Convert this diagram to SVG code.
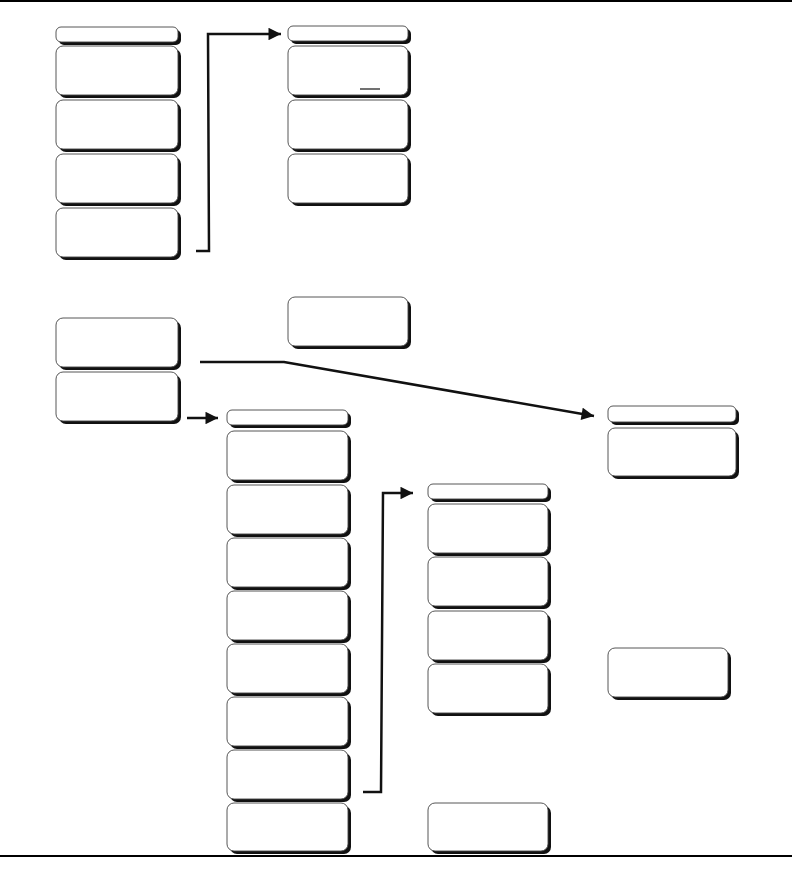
<svg xmlns="http://www.w3.org/2000/svg" width="792" height="870" viewBox="0 0 792 870">
<style>
.sh{fill:#111}
.bt{fill:#fff;stroke:#444;stroke-width:0.9}
.hd{fill:#fff;stroke:#444;stroke-width:0.9}
.ln{fill:none;stroke:#111;stroke-width:2.5;stroke-linejoin:miter}
.rule{stroke:#000;stroke-width:2}
</style>
<defs>
<marker id="ah" viewBox="0 0 10 10" refX="10" refY="5" markerWidth="6" markerHeight="5" markerUnits="strokeWidth" orient="auto">
<path d="M0,0 L10,5 L0,10 Z" fill="#111"/>
</marker>
</defs>
<rect width="792" height="870" fill="#fff"/>
<line class="rule" x1="0" y1="1" x2="792" y2="1"/>
<line class="rule" x1="0" y1="856" x2="792" y2="856"/>

<g id="c1-hdr"><rect class="sh" x="59" y="30" width="122" height="15" rx="5"/><rect class="hd" x="56" y="27" width="122" height="15" rx="5"/></g>
<g id="c1-b1"><rect class="sh" x="59" y="49" width="122" height="49" rx="7"/><rect class="bt" x="56" y="46" width="122" height="49" rx="7"/></g>
<g id="c1-b2"><rect class="sh" x="59" y="103" width="122" height="49" rx="7"/><rect class="bt" x="56" y="100" width="122" height="49" rx="7"/></g>
<g id="c1-b3"><rect class="sh" x="59" y="157" width="122" height="49" rx="7"/><rect class="bt" x="56" y="154" width="122" height="49" rx="7"/></g>
<g id="c1-b4"><rect class="sh" x="59" y="211" width="122" height="49" rx="7"/><rect class="bt" x="56" y="208" width="122" height="49" rx="7"/></g>
<g id="c1-b5"><rect class="sh" x="59" y="321" width="122" height="49" rx="7"/><rect class="bt" x="56" y="318" width="122" height="49" rx="7"/></g>
<g id="c1-b6"><rect class="sh" x="59" y="375" width="122" height="49" rx="7"/><rect class="bt" x="56" y="372" width="122" height="49" rx="7"/></g>

<g id="c2-hdr"><rect class="sh" x="291" y="29" width="120" height="15" rx="5"/><rect class="hd" x="288" y="26" width="120" height="15" rx="5"/></g>
<g id="c2-b1"><rect class="sh" x="291" y="49" width="120" height="49" rx="7"/><rect class="bt" x="288" y="46" width="120" height="49" rx="7"/><line x1="360" y1="89" x2="380" y2="89" stroke="#111" stroke-width="1.2"/></g>
<g id="c2-b2"><rect class="sh" x="291" y="103" width="120" height="49" rx="7"/><rect class="bt" x="288" y="100" width="120" height="49" rx="7"/></g>
<g id="c2-b3"><rect class="sh" x="291" y="157" width="120" height="49" rx="7"/><rect class="bt" x="288" y="154" width="120" height="49" rx="7"/></g>
<g id="c2-b4"><rect class="sh" x="291" y="300" width="120" height="49" rx="7"/><rect class="bt" x="288" y="297" width="120" height="49" rx="7"/></g>

<g id="c3-hdr"><rect class="sh" x="230" y="413" width="121" height="15" rx="5"/><rect class="hd" x="227" y="410" width="121" height="15" rx="5"/></g>
<g id="c3-b1"><rect class="sh" x="230" y="434" width="121" height="49" rx="7"/><rect class="bt" x="227" y="431" width="121" height="49" rx="7"/></g>
<g id="c3-b2"><rect class="sh" x="230" y="488" width="121" height="49" rx="7"/><rect class="bt" x="227" y="485" width="121" height="49" rx="7"/></g>
<g id="c3-b3"><rect class="sh" x="230" y="541" width="121" height="49" rx="7"/><rect class="bt" x="227" y="538" width="121" height="49" rx="7"/></g>
<g id="c3-b4"><rect class="sh" x="230" y="594" width="121" height="49" rx="7"/><rect class="bt" x="227" y="591" width="121" height="49" rx="7"/></g>
<g id="c3-b5"><rect class="sh" x="230" y="647" width="121" height="49" rx="7"/><rect class="bt" x="227" y="644" width="121" height="49" rx="7"/></g>
<g id="c3-b6"><rect class="sh" x="230" y="700" width="121" height="49" rx="7"/><rect class="bt" x="227" y="697" width="121" height="49" rx="7"/></g>
<g id="c3-b7"><rect class="sh" x="230" y="753" width="121" height="49" rx="7"/><rect class="bt" x="227" y="750" width="121" height="49" rx="7"/></g>
<g id="c3-b8"><rect class="sh" x="230" y="806" width="121" height="48" rx="7"/><rect class="bt" x="227" y="803" width="121" height="48" rx="7"/></g>

<g id="c4-hdr"><rect class="sh" x="431" y="487" width="120" height="15" rx="5"/><rect class="hd" x="428" y="484" width="120" height="15" rx="5"/></g>
<g id="c4-b1"><rect class="sh" x="431" y="507" width="120" height="49" rx="7"/><rect class="bt" x="428" y="504" width="120" height="49" rx="7"/></g>
<g id="c4-b2"><rect class="sh" x="431" y="560" width="120" height="49" rx="7"/><rect class="bt" x="428" y="557" width="120" height="49" rx="7"/></g>
<g id="c4-b3"><rect class="sh" x="431" y="614" width="120" height="49" rx="7"/><rect class="bt" x="428" y="611" width="120" height="49" rx="7"/></g>
<g id="c4-b4"><rect class="sh" x="431" y="667" width="120" height="49" rx="7"/><rect class="bt" x="428" y="664" width="120" height="49" rx="7"/></g>
<g id="c4-b5"><rect class="sh" x="431" y="806" width="120" height="48" rx="7"/><rect class="bt" x="428" y="803" width="120" height="48" rx="7"/></g>

<g id="c5-hdr"><rect class="sh" x="611" y="409" width="128" height="16" rx="5"/><rect class="hd" x="608" y="406" width="128" height="16" rx="5"/></g>
<g id="c5-b1"><rect class="sh" x="611" y="431" width="128" height="48" rx="7"/><rect class="bt" x="608" y="428" width="128" height="48" rx="7"/></g>
<g id="c5-b2"><rect class="sh" x="611" y="651" width="120" height="49" rx="7"/><rect class="bt" x="608" y="648" width="120" height="49" rx="7"/></g>

<g id="connectors">
<path class="ln" d="M196,251 L209,251 L208,34 L281,34" marker-end="url(#ah)"/>
<path class="ln" d="M200,362 L284,362 L594,416" marker-end="url(#ah)"/>
<path class="ln" d="M187,418 L218,418" marker-end="url(#ah)"/>
<path class="ln" d="M363,792 L381,792 L383,493 L413,493" marker-end="url(#ah)"/>
</g>
</svg>
